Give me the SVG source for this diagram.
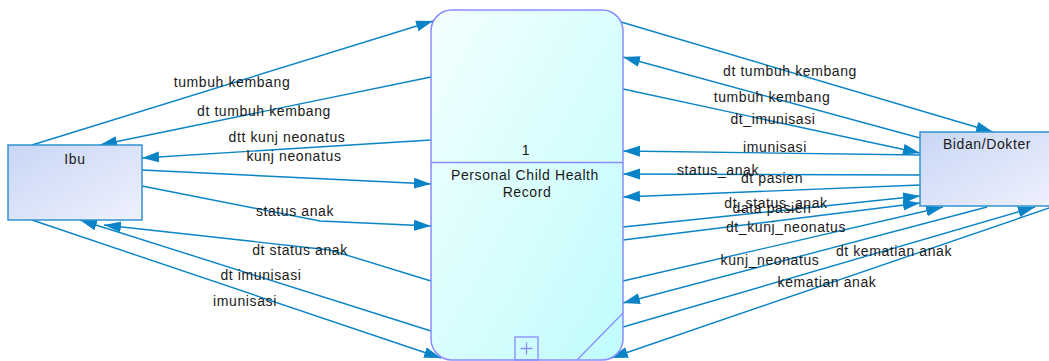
<svg xmlns="http://www.w3.org/2000/svg" width="1049" height="361" viewBox="0 0 1049 361">
  <defs>
    <linearGradient id="gExt" x1="0" y1="0" x2="1" y2="1">
      <stop offset="0" stop-color="#c8d6f5"/>
      <stop offset="1" stop-color="#eff1fd"/>
    </linearGradient>
    <linearGradient id="gProc" x1="0" y1="0" x2="1" y2="1">
      <stop offset="0" stop-color="#f4ffff"/>
      <stop offset="1" stop-color="#c0fcfc"/>
    </linearGradient>
    <marker id="arr" markerUnits="userSpaceOnUse" markerWidth="18" markerHeight="12" refX="17" refY="5.5" orient="auto">
      <path d="M0,0 L17,5.5 L0,11 z" fill="#0a84c6"/>
    </marker>
    <style>
      .flow { fill: none; stroke: #0a84c6; stroke-width: 1.4; marker-end: url(#arr); }
      .ext { fill: url(#gExt); stroke: #2f94d0; stroke-width: 1.5; }
      .proc { fill: url(#gProc); stroke: #8a8cff; stroke-width: 1.5; }
      .pline { fill: none; stroke: #8a8cff; stroke-width: 1.3; }
      text { font-family: "Liberation Sans", Arial, sans-serif; font-size: 14px; fill: #1a1a1a; text-anchor: middle; letter-spacing: 0.6px; }
    </style>
  </defs>

  <!-- data flows -->
  <g id="connectors">
    <!-- Ibu side -->
    <path class="flow" d="M32,145 L433,21"/>
    <path class="flow" d="M431,77 L100,145"/>
    <path class="flow" d="M431,140 L142,158"/>
    <path class="flow" d="M142,170 L431,184"/>
    <path class="flow" d="M142,186 L320,221 L431,226"/>
    <path class="flow" d="M431,281 L330,250 L104,225"/>
    <path class="flow" d="M431,331 L80,220"/>
    <path class="flow" d="M32,220 L441,358"/>
    <!-- Bidan/Dokter side -->
    <path class="flow" d="M621,22 L993,132"/>
    <path class="flow" d="M920,138 L623,57"/>
    <path class="flow" d="M623,89 L920,153"/>
    <path class="flow" d="M920,155 L623,151"/>
    <path class="flow" d="M920,175 L623,174"/>
    <path class="flow" d="M920,185 L623,197"/>
    <path class="flow" d="M623,227 L920,196"/>
    <path class="flow" d="M623,240 L920,203"/>
    <path class="flow" d="M623,281 L943,207"/>
    <path class="flow" d="M987,207 L623,303"/>
    <path class="flow" d="M623,327 L1035,207"/>
    <path class="flow" d="M1052,207 L611,358"/>

    <!-- flow labels -->
    <text x="232" y="87">tumbuh kembang</text>
    <text x="264" y="116">dt tumbuh kembang</text>
    <text x="287" y="142">dtt kunj neonatus</text>
    <text x="294" y="161">kunj neonatus</text>
    <text x="295" y="216">status anak</text>
    <text x="300" y="255">dt status anak</text>
    <text x="261" y="280">dt imunisasi</text>
    <text x="245" y="306">imunisasi</text>

    <text x="790" y="76">dt tumbuh kembang</text>
    <text x="772" y="102">tumbuh kembang</text>
    <text x="773" y="124">dt_imunisasi</text>
    <text x="775" y="152">imunisasi</text>
    <text x="718" y="175">status_anak</text>
    <text x="772" y="183">dt pasien</text>
    <text x="776" y="208">dt_status_anak</text>
    <text x="772" y="213">data pasien</text>
    <text x="786" y="232">dt_kunj_neonatus</text>
    <text x="770" y="265">kunj_neonatus</text>
    <text x="894" y="256">dt kematian anak</text>
    <text x="827" y="287">kematian anak</text>
  </g>

  <!-- external entity: Ibu -->
  <g id="ibu">
    <rect class="ext" x="8" y="145" width="134" height="75"/>
    <text x="75" y="164">Ibu</text>
  </g>

  <!-- external entity: Bidan/Dokter -->
  <g id="bidan-dokter">
    <rect class="ext" x="920" y="132" width="134" height="74"/>
    <text x="987" y="149">Bidan/Dokter</text>
  </g>

  <!-- process 1 -->
  <g id="process-1">
    <rect class="proc" x="431" y="10" width="192" height="350" rx="21" ry="21"/>
    <line class="pline" x1="431" y1="162.5" x2="623" y2="162.5"/>
    <line class="pline" x1="623" y1="313" x2="577" y2="360"/>
    <rect class="pline" x="515" y="337" width="23" height="23"/>
    <path class="pline" d="M526.5,342.5 V354.5 M520.5,348.5 H532.5"/>
    <text x="526" y="155">1</text>
    <text x="525" y="180">Personal Child Health</text>
    <text x="527" y="197">Record</text>
  </g>
</svg>
